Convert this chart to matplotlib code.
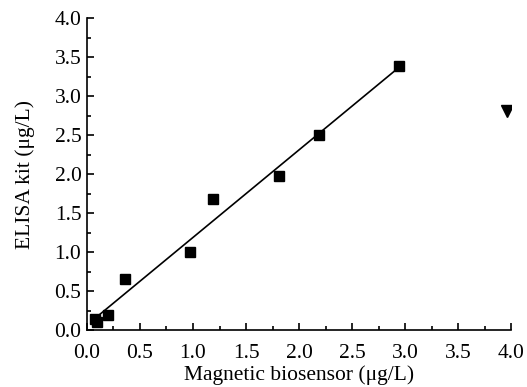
import numpy as np
import matplotlib
matplotlib.use("Agg")
import matplotlib.pyplot as plt
from matplotlib.ticker import MultipleLocator

# Data
sensor_x = [0.08, 0.09, 0.20, 0.36, 0.97, 1.19, 1.81, 2.19, 2.94]
elisa_y = [0.14, 0.10, 0.20, 0.65, 1.00, 1.68, 1.97, 2.50, 3.39]
outlier_x = [3.96]
outlier_y = [2.81]
xticks = [0.0, 0.5, 1.0, 1.5, 2.0, 2.5, 3.0, 3.5, 4.0]
yticks = [0.0, 0.5, 1.0, 1.5, 2.0, 2.5, 3.0, 3.5, 4.0]

plt.rcParams['font.family'] = ['Liberation Serif', 'DejaVu Serif']

fig = plt.figure(figsize=(5.27, 3.87), dpi=100)
ax = fig.add_axes([0.165, 0.147, 0.805, 0.806])

slope, intercept = np.polyfit(sensor_x, elisa_y, 1)
lx = np.array([min(sensor_x), max(sensor_x)])
ax.plot(lx, slope * lx + intercept, color='black', lw=1.2, zorder=2)
ax.plot(sensor_x, elisa_y, 's', color='black', ms=7, zorder=3)
ax.plot(outlier_x, outlier_y, 'v', color='black', ms=8, zorder=3)

ax.set_xlim(0, 4.0)
ax.set_ylim(0, 4.0)
ax.set_xticks(xticks)
ax.set_yticks(yticks)
ax.set_xticklabels([f"{v:.1f}" for v in xticks])
ax.set_yticklabels([f"{v:.1f}" for v in yticks])
ax.xaxis.set_minor_locator(MultipleLocator(0.25))
ax.yaxis.set_minor_locator(MultipleLocator(0.25))
ax.tick_params(which='both', direction='in', width=1.2, labelsize=15.5, colors='black')
ax.tick_params(which='major', length=5)
ax.tick_params(which='minor', length=3)
ax.tick_params(axis='x', pad=10)
ax.tick_params(axis='y', pad=4)
for s in ['top', 'right']:
    ax.spines[s].set_visible(False)
for s in ['left', 'bottom']:
    ax.spines[s].set_linewidth(1.2)

ax.set_xlabel("Magnetic biosensor (μg/L)", fontsize=15.5, labelpad=1.5)
ax.set_ylabel("ELISA kit (μg/L)", fontsize=15.5, labelpad=14)

fig.savefig("out.png", dpi=100)
